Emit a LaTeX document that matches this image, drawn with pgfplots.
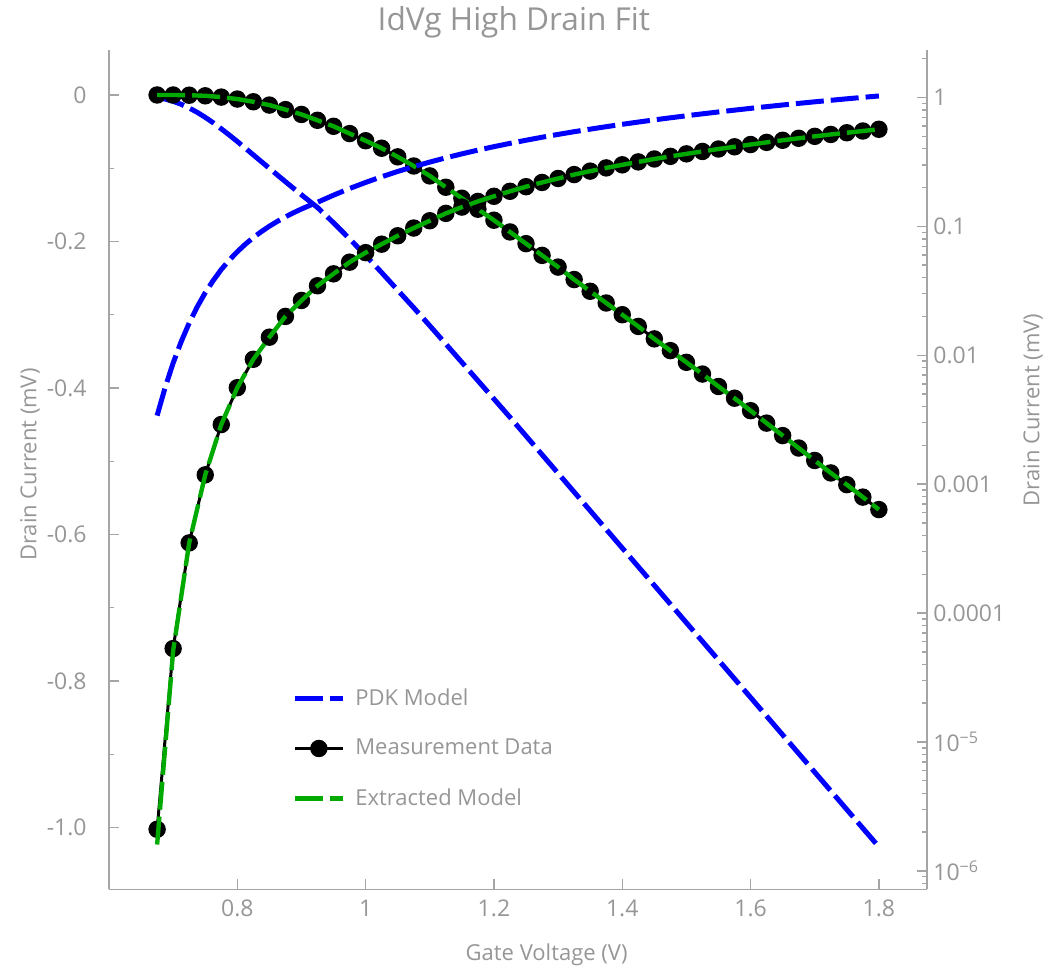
\documentclass[border=0pt]{standalone}
\usepackage{fontspec}
\setmainfont{Open Sans}
\usepackage{pgfplots}
\usepackage{pgfplotstable}
\pgfplotsset{compat=1.18}

\definecolor{axgray}{RGB}{165,165,165}
\definecolor{txtgray}{RGB}{150,150,150}
\definecolor{pdkblue}{RGB}{0,0,255}
\definecolor{fitgreen}{RGB}{0,170,0}

% |Id| (mV) versus gate voltage (V)
\pgfplotstableread{
vg      id
0.675   0.0034
0.6875  0.00562
0.700   0.00871
0.7125  0.01274
0.725   0.01778
0.7375  0.02371
0.750   0.03055
0.7625  0.03802
0.775   0.04624
0.7875  0.05470
0.800   0.06353
0.8125  0.07261
0.825   0.08185
0.8375  0.09099
0.850   0.1002
0.8625  0.1093
0.875   0.1184
0.8875  0.1274
0.900   0.1363
0.9125  0.1450
0.925   0.1537
0.950   0.1745
0.975   0.1965
1.000   0.2190
1.025   0.2425
1.050   0.2665
1.075   0.2905
1.100   0.3150
1.125   0.3400
1.150   0.3650
1.175   0.3900
1.200   0.4150
1.225   0.4400
1.250   0.4655
1.275   0.4910
1.300   0.5165
1.325   0.5420
1.350   0.5675
1.375   0.5930
1.400   0.6185
1.425   0.6440
1.450   0.6695
1.475   0.6950
1.500   0.7205
1.525   0.7460
1.550   0.7715
1.575   0.7970
1.600   0.8225
1.625   0.8480
1.650   0.8735
1.675   0.8990
1.700   0.9245
1.725   0.9500
1.750   0.9755
1.775   1.0010
1.800   1.0265
}\pdk

\pgfplotstableread{
vg      id
0.675   2.1e-6
0.700   5.3e-5
0.725   3.5e-4
0.750   1.18e-3
0.775   2.9e-3
0.800   5.6e-3
0.825   9.3e-3
0.850   0.0138
0.875   0.0200
0.900   0.0266
0.925   0.0346
0.950   0.0428
0.975   0.0527
1.000   0.0625
1.025   0.0727
1.050   0.0845
1.075   0.0970
1.100   0.1105
1.125   0.1260
1.150   0.1410
1.175   0.1560
1.200   0.1710
1.225   0.1870
1.250   0.2030
1.275   0.2190
1.300   0.2350
1.325   0.2520
1.350   0.2680
1.375   0.2840
1.400   0.3000
1.425   0.3160
1.450   0.3330
1.475   0.3490
1.500   0.3650
1.525   0.3810
1.550   0.3980
1.575   0.4140
1.600   0.4310
1.625   0.4480
1.650   0.4650
1.675   0.4820
1.700   0.4990
1.725   0.5160
1.750   0.5320
1.775   0.5490
1.800   0.5660
}\meas

\pgfplotstableread{
vg      id
0.675   1.6e-6
0.700   5.1e-5
0.725   3.5e-4
0.750   1.18e-3
0.775   2.9e-3
0.800   5.6e-3
0.825   9.3e-3
0.850   0.0138
0.875   0.0200
0.900   0.0266
0.925   0.0346
0.950   0.0428
0.975   0.0527
1.000   0.0625
1.025   0.0727
1.050   0.0845
1.075   0.0970
1.100   0.1105
1.125   0.1260
1.150   0.1410
1.175   0.1560
1.200   0.1710
1.225   0.1870
1.250   0.2030
1.275   0.2190
1.300   0.2350
1.325   0.2520
1.350   0.2680
1.375   0.2840
1.400   0.3000
1.425   0.3160
1.450   0.3330
1.475   0.3490
1.500   0.3650
1.525   0.3810
1.550   0.3980
1.575   0.4140
1.600   0.4310
1.625   0.4480
1.650   0.4650
1.675   0.4820
1.700   0.4990
1.725   0.5160
1.750   0.5320
1.775   0.5490
1.800   0.5660
}\fit

\pgfplotsset{
  common/.style={
    scale only axis, width=409pt, height=419.65pt,
    xmin=0.6, xmax=1.875,
    clip marker paths=true,
    axis line style={-, axgray, line width=0.7pt},
    tick style={axgray, line width=0.7pt},
    tick align=inside,
    major tick length=5pt, minor tick length=2.5pt,
    ticklabel style={text=txtgray, font=\fontsize{11.5}{13}\selectfont},
    label style={text=txtgray, font=\fontsize{11}{13}\selectfont},
  },
  pdkstyle/.style={pdkblue, line width=2.5pt, dash pattern=on 14pt off 3.5pt},
  measstyle/.style={black, line width=1.5pt, mark=*, mark size=3.6pt,
    mark options={solid, fill=black, draw=black}},
  fitstyle/.style={fitgreen, line width=2.2pt, dash pattern=on 14pt off 3.5pt},
}

\begin{document}
\begin{tikzpicture}
\useasboundingbox (-54.5pt,-41.35pt) rectangle (476.5pt,444.65pt);

% linear scale, left axis
\begin{axis}[
  common,
  ymin=-1.0844, ymax=0.0614,
  axis x line*=bottom, axis y line*=left,
  xtick={0.8,1,1.2,1.4,1.6,1.8},
  xticklabels={0.8,1,1.2,1.4,1.6,1.8},
  xticklabel style={anchor=center, yshift=-9.5pt},
  ytick={0,-0.2,-0.4,-0.6,-0.8,-1.0},
  yticklabels={0,-0.2,-0.4,-0.6,-0.8,-1.0},
  minor ytick={-0.1,-0.3,-0.5,-0.7,-0.9},
  yticklabel style={anchor=east, inner sep=0pt, xshift=-11pt},
  xlabel={Gate Voltage (V)},
  xlabel style={at={(axis description cs:0.535,-0.0786)}, anchor=center},
  ylabel={Drain Current (mV)},
  ylabel style={at={(axis description cs:-0.0966,0.506)}, anchor=center, rotate=0},
  title={IdVg High Drain Fit},
  title style={at={(axis description cs:0.495,1.019)}, anchor=center,
    text=txtgray, font=\fontsize{15.8}{18}\selectfont},
  legend style={draw=none, fill=none, at={(axis description cs:0.2237,0.2434)},
    anchor=north west, row sep=12.5pt, inner sep=0pt,
    font=\fontsize{11}{13}\selectfont, text=txtgray,
    nodes={inner sep=1.5pt},
    /tikz/every odd column/.append style={column sep=3.5pt}},
  legend cell align=left,
  legend image code/.code={\draw[mark repeat=2, mark phase=2, #1]
    plot coordinates {(0pt,0pt) (12pt,0pt) (24pt,0pt)};},
]
\addplot[pdkstyle] table[x=vg, y expr=-\thisrow{id}] {\pdk};
\addlegendentry{PDK Model}
\addplot[measstyle] table[x=vg, y expr=-\thisrow{id}] {\meas};
\addlegendentry{Measurement Data}
\addplot[fitstyle] table[x=vg, y expr=-\thisrow{id}] {\fit};
\addlegendentry{Extracted Model}
\end{axis}

% logarithmic scale, right axis
\begin{axis}[
  common,
  ymode=log, ymin=7.19e-7, ymax=2.333,
  axis x line=none, axis y line*=right,
  ytick={1,0.1,0.01,0.001,0.0001,0.00001,0.000001},
  yticklabels={1,0.1,0.01,0.001,0.0001,10\textsuperscript{−5},10\textsuperscript{−6}},
  minor ytick={8e-7,9e-7,
    2e-6,3e-6,4e-6,5e-6,6e-6,7e-6,8e-6,9e-6,
    2e-5,3e-5,4e-5,5e-5,6e-5,7e-5,8e-5,9e-5,
    2e-4,3e-4,4e-4,5e-4,6e-4,7e-4,8e-4,9e-4,
    2e-3,3e-3,4e-3,5e-3,6e-3,7e-3,8e-3,9e-3,
    0.02,0.03,0.04,0.05,0.06,0.07,0.08,0.09,
    0.2,0.3,0.4,0.5,0.6,0.7,0.8,0.9,2},
  yticklabel style={anchor=west, inner sep=0pt, xshift=3pt},
  ylabel={Drain Current (mV)},
  ylabel style={at={(axis description cs:1.1296,0.571)}, anchor=center, rotate=0},
]
\addplot[pdkstyle] table[x=vg, y=id] {\pdk};
\addplot[measstyle] table[x=vg, y=id] {\meas};
\addplot[fitstyle] table[x=vg, y=id] {\fit};
\end{axis}
\end{tikzpicture}
\end{document}
